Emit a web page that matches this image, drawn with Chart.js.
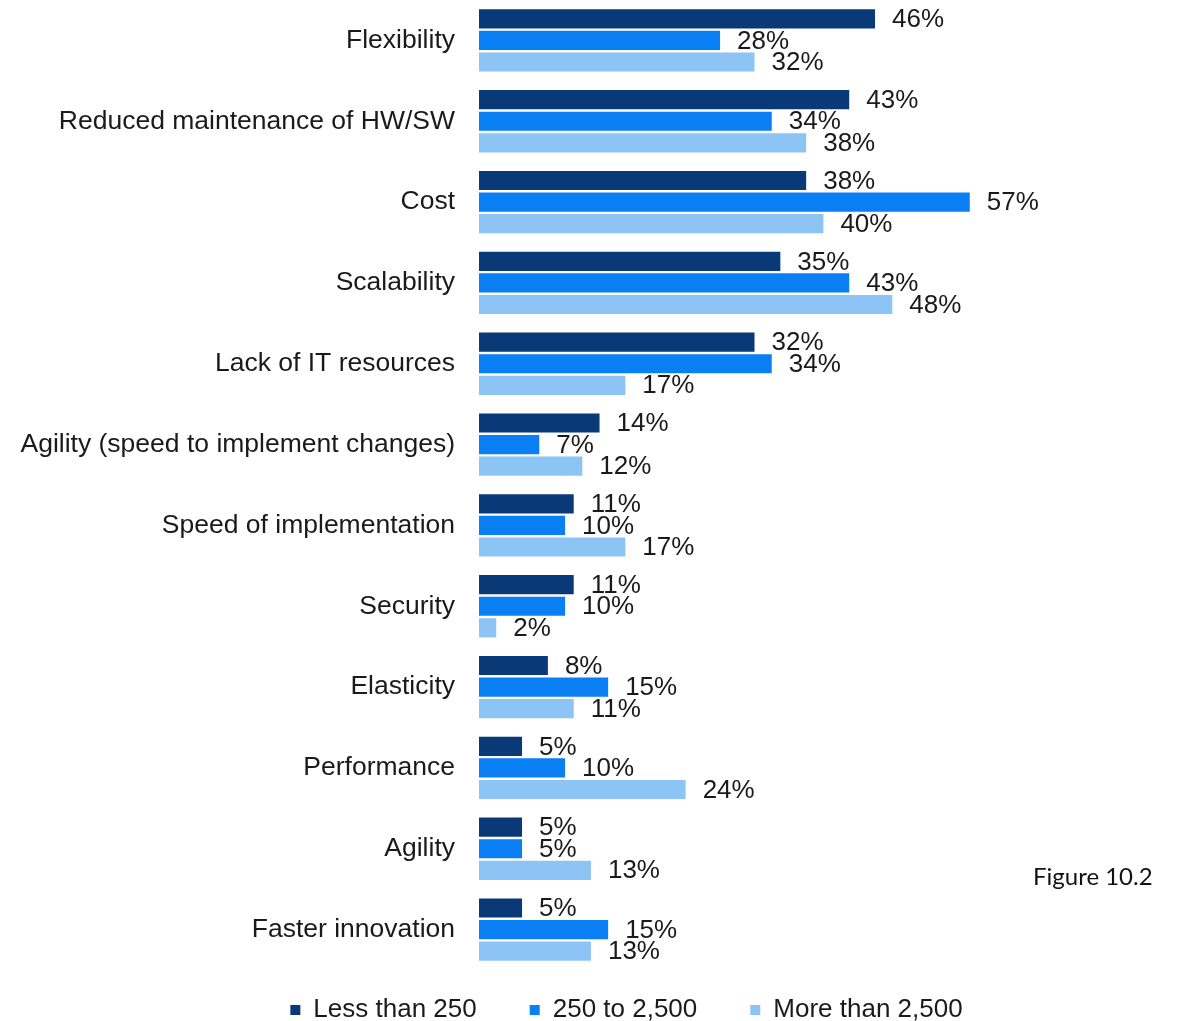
<!DOCTYPE html>
<html>
<head>
<meta charset="utf-8">
<script src="https://cdn.jsdelivr.net/npm/chart.js@4.4.1/dist/chart.umd.min.js"></script>
<style>
    body { margin: 0; background: #fff; }
    #wrap { position: relative; width: 1185px; height: 1021px; }
    #figLabel {
        position: absolute; left: 1033px; top: 861px;
        font: 24px Lato, "Open Sans", sans-serif; color: #111;
    }
</style>
</head>
<body>
<div id="wrap">
    <canvas id="myChart"></canvas>
    <div id="figLabel">Figure 10.2</div>
</div>
<script>
const categories = [
    'Flexibility',
    'Reduced maintenance of HW/SW',
    'Cost',
    'Scalability',
    'Lack of IT resources',
    'Agility (speed to implement changes)',
    'Speed of implementation',
    'Security',
    'Elasticity',
    'Performance',
    'Agility',
    'Faster innovation'
];
const seriesNames = ['Less than 250', '250 to 2,500', 'More than 2,500'];
const lessThan250 = [46, 43, 38, 35, 32, 14, 11, 11, 8, 5, 5, 5];
const from250to2500 = [28, 34, 57, 43, 34, 7, 10, 10, 15, 10, 5, 15];
const moreThan2500 = [32, 38, 40, 48, 17, 12, 17, 2, 11, 24, 13, 13];

const FONT = '"Liberation Sans", Arial, sans-serif';
const TEXT = '#1a1a1a';

// writes "46%" etc just right of each bar
const barValueLabels = {
    id: 'barValueLabels',
    afterDatasetsDraw(chart) {
        const ctx = chart.ctx;
        ctx.save();
        ctx.font = '26px ' + FONT;
        ctx.fillStyle = TEXT;
        ctx.textAlign = 'left';
        ctx.textBaseline = 'middle';
        chart.data.datasets.forEach((ds, i) => {
            chart.getDatasetMeta(i).data.forEach((bar, j) => {
                ctx.fillText(ds.data[j] + '%', bar.x + 17, bar.y + 1);
            });
        });
        ctx.restore();
    }
};

// move the legend row to where the original sits
const legendNudge = {
    id: 'legendNudge',
    afterLayout(chart) {
        const l = chart.legend;
        l.top -= 26; l.bottom -= 26;
        l.left += 34; l.right += 34;
    }
};

const ctx = document.getElementById('myChart').getContext('2d');
new Chart(ctx, {
    type: 'bar',
    data: {
        labels: categories,
        datasets: [
            { label: seriesNames[0], data: lessThan250, backgroundColor: 'rgb(10, 57, 120)' },
            { label: seriesNames[1], data: from250to2500, backgroundColor: 'rgb(10, 126, 243)' },
            { label: seriesNames[2], data: moreThan2500, backgroundColor: 'rgb(140, 196, 245)' }
        ]
    },
    options: {
        indexAxis: 'y',
        responsive: true,
        maintainAspectRatio: false,
        animation: false,
        categoryPercentage: 0.8,
        barPercentage: 0.89,
        layout: { padding: { top: -2, left: 0, right: 0, bottom: -38 } },
        scales: {
            x: { display: false, min: 0, max: 82 },
            y: {
                grid: { display: false, drawTicks: false },
                border: { display: false },
                ticks: { color: TEXT, padding: 24, font: { family: FONT, size: 26.5 } },
                afterFit(scale) {
                    scale.width = 479;
                    scale.paddingTop = 0;
                    scale.paddingBottom = 0;
                }
            }
        },
        plugins: {
            tooltip: { enabled: false },
            legend: {
                position: 'bottom',
                labels: {
                    boxWidth: 10,
                    boxHeight: 10,
                    padding: 53,
                    color: TEXT,
                    font: { family: FONT, size: 26 }
                }
            }
        }
    },
    plugins: [barValueLabels, legendNudge]
});
</script>
</body>
</html>
